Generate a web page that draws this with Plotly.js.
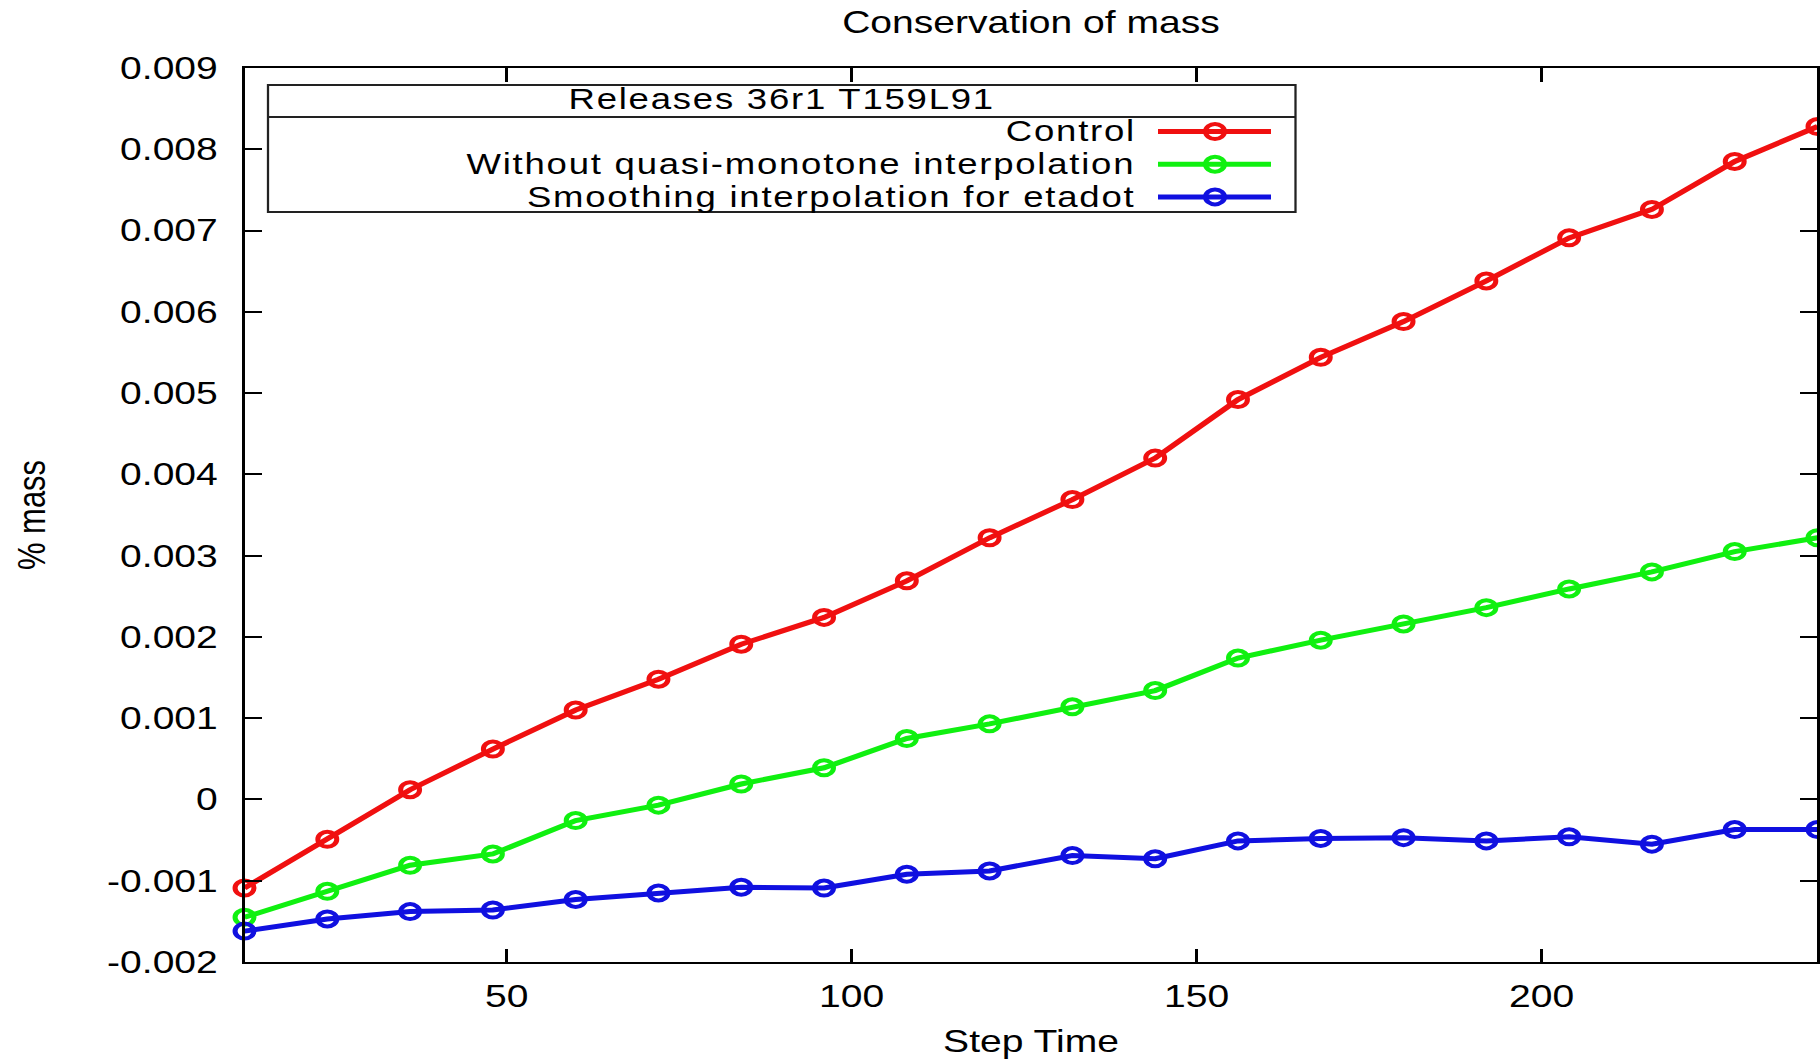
<!DOCTYPE html>
<html>
<head>
<meta charset="utf-8">
<script src="https://cdn.plot.ly/plotly-3.0.1.min.js"></script>
<style>
  html, body { margin: 0; padding: 0; background: #ffffff; overflow: hidden; }
  #wrap { width: 1444px; height: 1064px; transform: scaleX(1.2604); transform-origin: 0 0; }
  #chart { width: 1444px; height: 1064px; }
  .annotation-text { letter-spacing: 1.4px; }
</style>
</head>
<body>
<div id="wrap"><div id="chart"></div></div>
<script>
// ---- data ----
const steps = [12, 24, 36, 48, 60, 72, 84, 96, 108, 120, 132, 144, 156, 168, 180, 192, 204, 216, 228, 240];
const control = [-0.00109, -0.00049, 0.00012, 0.00062, 0.00110, 0.00148, 0.00191, 0.00224, 0.00269, 0.00322,
                 0.00369, 0.00420, 0.00492, 0.00544, 0.00588, 0.00638, 0.00691, 0.00726, 0.00785, 0.00828];
const withoutQuasiMonotone = [-0.00145, -0.00113, -0.00081, -0.00067, -0.00026, -0.00007, 0.00019, 0.00039, 0.00075, 0.00093,
                 0.00114, 0.00134, 0.00174, 0.00196, 0.00216, 0.00236, 0.00259, 0.00280, 0.00305, 0.00322];
const smoothingEtadot = [-0.00162, -0.00147, -0.00138, -0.00136, -0.00123, -0.00115, -0.00108, -0.00109, -0.00092, -0.00088,
                 -0.00069, -0.00073, -0.00051, -0.00048, -0.00047, -0.00051, -0.00046, -0.00055, -0.00037, -0.00037];
const seriesNames = ["Control", "Without quasi-monotone interpolation", "Smoothing interpolation for etadot"];
const seriesColors = ["#f01010", "#10f010", "#1010e0"];
const legendTitle = "Releases 36r1 T159L91";
const xTickVals = [50, 100, 150, 200];
const xTickText = ["50", "100", "150", "200"];
const yTickVals = [-0.002, -0.001, 0, 0.001, 0.002, 0.003, 0.004, 0.005, 0.006, 0.007, 0.008, 0.009];
const yTickText = ["-0.002", "-0.001", "0", "0.001", "0.002", "0.003", "0.004", "0.005", "0.006", "0.007", "0.008", "0.009"];

// ---- geometry (base, before horizontal stretch) ----
const S = 1.2604;           // horizontal stretch of the page
const M = {l: 194, r: 2, t: 68, b: 102};
const W = 1444, H = 1064;
const PW = W - M.l - M.r, PH = H - M.t - M.b;
const xp = fx => (fx / S - M.l) / PW;      // screen px -> paper x
const yp = fy => (H - M.b - fy) / PH;      // screen px -> paper y

const FONT = "Liberation Sans, Arial, Helvetica, sans-serif";
const FS = 31;
const FL = 29;

const ys = [control, withoutQuasiMonotone, smoothingEtadot];
const traces = ys.map((y, i) => ({
  type: "scatter",
  mode: "lines+markers",
  x: steps,
  y: y,
  name: seriesNames[i],
  line: {color: seriesColors[i], width: 5},
  marker: {symbol: "circle-open", size: 15, color: seriesColors[i], line: {width: 4, color: seriesColors[i]}},
  cliponaxis: false,
  showlegend: false
}));

// manual legend (text on the left, sample on the right, like the original)
const rowY = [131.5, 164.2, 196.9];
const shapes = [
  {type: "rect", xref: "paper", yref: "paper", x0: xp(268), x1: xp(1295.5), y0: yp(212), y1: yp(85),
   line: {color: "#222", width: 1.8}},
  {type: "line", xref: "paper", yref: "paper", x0: xp(268), x1: xp(1295.5), y0: yp(117), y1: yp(117),
   line: {color: "#222", width: 1.8}}
];
const annotations = [
  {xref: "paper", yref: "paper", x: xp(781), y: yp(99), text: legendTitle, showarrow: false,
   xanchor: "center", yanchor: "middle", font: {family: FONT, size: FL, color: "#000"}}
];
seriesNames.forEach((n, i) => {
  shapes.push({type: "line", xref: "paper", yref: "paper", x0: xp(1158), x1: xp(1271), y0: yp(rowY[i]), y1: yp(rowY[i]),
               line: {color: seriesColors[i], width: 5}});
  shapes.push({type: "circle", xref: "paper", yref: "paper", xsizemode: "pixel", ysizemode: "pixel",
               xanchor: xp(1215), yanchor: yp(rowY[i]), x0: -7.5, x1: 7.5, y0: -7.5, y1: 7.5,
               line: {color: seriesColors[i], width: 4}, fillcolor: "rgba(0,0,0,0)"});
  annotations.push({xref: "paper", yref: "paper", x: xp(1138), y: yp(rowY[i]), text: n, showarrow: false,
                    xanchor: "right", yanchor: "middle", font: {family: FONT, size: FL, color: "#000"}});
});

const layout = {
  width: W, height: H,
  margin: M,
  paper_bgcolor: "#ffffff",
  plot_bgcolor: "#ffffff",
  font: {family: FONT, size: FS, color: "#000"},
  title: {text: "Conservation of mass", x: 0.5, xref: "paper", y: 1 - 22 / H, yref: "container",
          xanchor: "center", yanchor: "middle", font: {family: FONT, size: FS, color: "#000"}},
  xaxis: {
    range: [12, 240], showgrid: false, zeroline: false,
    showline: true, linecolor: "#000", linewidth: 2, mirror: "ticks",
    ticks: "inside", ticklen: 13.5, tickwidth: 2, tickcolor: "#000",
    tickvals: xTickVals, ticktext: xTickText, ticklabelstandoff: 6,
    tickfont: {family: FONT, size: FS, color: "#000"},
    title: {text: "Step Time", standoff: 17, font: {family: FONT, size: FS, color: "#000"}}
  },
  yaxis: {
    range: [-0.002, 0.009], showgrid: false, zeroline: false,
    showline: true, linecolor: "#000", linewidth: 2, mirror: "ticks",
    ticks: "inside", ticklen: 13.5, tickwidth: 2, tickcolor: "#000",
    tickvals: yTickVals, ticktext: yTickText, ticklabelstandoff: 13,
    tickfont: {family: FONT, size: FS, color: "#000"},
    title: {text: "% mass", standoff: 39, font: {family: FONT, size: FS, color: "#000"}}
  },
  shapes: shapes,
  annotations: annotations,
  showlegend: false
};

Plotly.newPlot("chart", traces, layout, {staticPlot: true, displayModeBar: false});
</script>
</body>
</html>
